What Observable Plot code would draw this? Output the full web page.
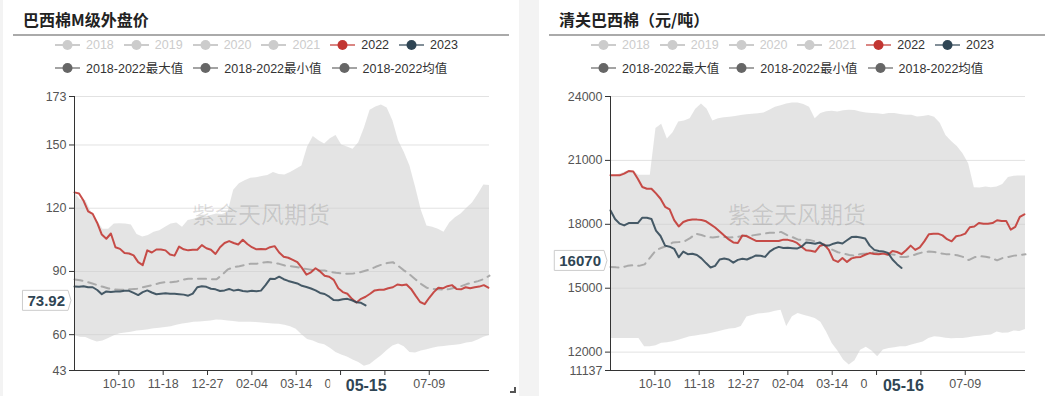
<!DOCTYPE html>
<html><head><meta charset="utf-8">
<script src="https://cdn.jsdelivr.net/npm/d3@7"></script>
<script src="https://cdn.jsdelivr.net/npm/@observablehq/plot@0.6"></script>
<style>
html,body{margin:0;padding:0;background:#f3f3f3;width:1045px;height:396px;overflow:hidden;font-family:"Liberation Sans","Noto Sans CJK SC",sans-serif;}
.card{position:absolute;top:0;width:516px;height:396px;background:#fff;overflow:hidden}
.title{position:absolute;left:20px;top:8px;font:700 16px/22px "Noto Sans CJK SC",sans-serif;color:#222;white-space:nowrap}
.rule{position:absolute;left:10px;width:496px;top:34px;height:1.5px;background:#aaa}
.legend{position:absolute;left:52px;top:34px;font-size:12.5px;}
.row{display:flex;align-items:center;height:22.5px;white-space:nowrap}
.item{display:flex;align-items:center;margin-right:10px}
.item svg{margin-right:6px;display:block}
.chart{position:absolute;left:0;top:80px}
.wm{position:absolute;left:0;width:516px;top:199px;text-align:center;font:23px/28px "Noto Sans CJK SC",sans-serif;color:rgba(0,0,0,0.13);pointer-events:none}
.corner{position:absolute;left:507px;top:387px;width:4px;height:4px;border-right:2px solid #555;border-bottom:2px solid #555}
</style></head>
<body>
<div class="card" id="cardL" style="left:3px"></div>
<div class="card" id="cardR" style="left:539px"></div>
<script>
// ---------- shared categories ----------
const START = new Date(Date.UTC(2019, 8, 1));   // 09-01 (cotton year, leap Feb)
const END = new Date(Date.UTC(2020, 7, 31));    // 08-31
const X_TICKS = ["2019-10-10","2019-11-18","2019-12-27","2020-02-04","2020-03-14","2020-04-22","2020-05-31","2020-07-09"];
const BAND_STEP = 5;   // days between band / mean samples
const LINE_STEP = 4;   // days between 2022 / 2023 samples
const LEGEND_YEARS = ["2018","2019","2020","2021","2022","2023"];
const LEGEND_STATS = ["2018-2022最大值","2018-2022最小值","2018-2022均值"];

// ---------- left: 巴西棉M级外盘价 ----------
const leftTitle = "巴西棉M级外盘价";
const leftYTicks = [43, 60, 90, 120, 150, 173];
const leftMax = [127.6,124,123.7,118,114,110,110,112.5,112.6,112.5,
  112,107.5,106.3,107,108.6,109.3,111,112.5,113,111,
  114.2,114.8,115.8,116,116.5,117.3,117,118,128.5,131.6,
  133,134.2,134.5,135,135.5,137,136,135.7,137,138.5,
  140,149,154,152,150.5,153,154.5,150,149,148,
  151,158,166.5,168,169,167.5,161.5,152,146.5,140,
  130,119,111.5,111,110,108.6,113,115.5,117.3,120,
  122.5,126.5,131,130.8];
const leftMin = [59.6,58.8,58.6,57.5,56.5,57,58.2,59.5,60.4,60.8,
  61.2,61.8,62,62.3,62.8,63,63.4,63.8,64.5,65.1,
  65.4,65.9,66,66.3,66.5,67,66.8,66.5,66.2,65.9,
  65.9,65.9,65.8,65.5,65.3,65.1,65,64.5,63.8,62.6,
  60,57.7,57,55.8,55.2,53.5,51.5,50.3,49.4,48,
  46.8,45,45.8,48,50,52.5,54.6,55.6,54.3,51.5,
  51.3,52.2,52.8,53.6,54.1,54.4,54.8,55,55.3,56,
  56.4,57.5,58.8,59.6];
const leftMean = [86.2,85.8,85.2,84.4,83.5,82.7,81.9,81.5,81.3,81.4,
  81.6,81.8,82.5,83.1,83.7,84.5,84.9,84.9,85.2,86,
  86.5,86.5,86.5,86.5,86.3,86.3,88.5,91,92,92.5,
  93.1,93.7,93.6,94.2,94.5,94.1,93.6,92.8,92.5,92.1,
  91.5,91.1,90.6,90.4,90.4,89.8,89.4,89.1,88.9,89,
  89.4,90.2,91,92.2,93.2,94,94.4,92.5,90.4,88.5,
  86.2,84,82.2,81.7,81.5,81.3,81.7,82.4,83,84,
  84.7,85.4,86.4,88];
const left2022 = [127.5,127,123.5,118.5,117.3,113,107.5,105.5,108,101.5,
  100.7,98.7,98.5,97.6,94.4,93,100,99,100.4,100.4,
  100,98,97.5,101.8,100.5,100,100.3,100.3,102.5,101,
  100.3,98.3,101.5,103.5,104.4,103.5,102.8,105,103,101.5,
  100.5,100.7,100.5,101.5,102,99,97,96.5,95.5,94.4,
  91.7,88.5,89.6,91.5,90,88,87.5,86,82,80.2,
  79.4,77,75.3,77,78,79.4,81,81.3,81.3,82,
  82.5,83.8,83.5,83.8,81.7,78.5,75.5,74.5,77.5,80.2,
  82.3,82,83,83.5,81.7,81.5,82.5,82,82.5,82.8,
  83.5,82.3];
const left2023 = [82.9,82.7,83,82.5,82.5,81.2,79.2,80.5,80.2,80.5,
  80.5,80.8,80.8,79.8,78.8,80.2,81,80,79.2,79.4,
  79.6,79.4,79.4,79.2,79,78.5,79.5,82.5,83,82.7,
  81.8,81.5,80.7,81,81.7,80.9,81.3,80.7,80.5,80.8,
  80.6,80.9,83.5,86.5,86.4,87.5,86.3,85.5,84.9,84.3,
  83.2,82.6,81.9,81,79.8,79.3,78,76.4,76.3,76.8,
  77,76.3,75.4,75.1,73.92];
const leftPointerDate = "2020-05-15";
const leftPointerValue = 73.92;

// ---------- right: 清关巴西棉（元/吨） ----------
const rightTitle = "清关巴西棉（元/吨）";
const rightYTicks = [11137, 12000, 15000, 18000, 21000, 24000];
const rightMax = [20300,20300,20400,20500,20500,20300,20300,20300,22500,22700,
  22000,22300,22800,22850,22950,23400,23650,23400,22850,22950,
  23000,23030,23060,23110,23140,23170,23190,23220,23350,23500,
  23560,23650,23700,23700,23630,23500,22950,23200,23280,23310,
  23270,23330,23360,23340,23270,23230,23200,23190,23150,23200,
  23200,23150,23120,23120,23040,23060,23110,23030,22750,22170,
  21890,21650,21310,20840,19720,19700,19750,19720,19750,19870,
  20200,20260,20265,20265];
const rightMin = [12640,12640,12640,12640,12640,12640,12250,12250,12300,12420,
  12440,12485,12560,12640,12720,12760,12800,12840,12900,12960,
  13030,13080,13110,13200,13650,13720,13790,13810,13850,13920,
  13970,13200,13660,13810,13730,13660,13580,13400,12950,12400,
  12050,11625,11400,11600,12090,12230,12050,11780,12100,12170,
  12200,12250,12250,12330,12410,12480,12640,12720,12700,12650,
  12630,12640,12640,12680,12720,12750,12780,12800,12950,12880,
  12900,12990,12970,13060];
const rightMean = [16000,15980,15970,16050,16080,16050,16120,16450,16780,16900,
  17000,17150,17170,17200,17350,17560,17500,17400,17380,17420,
  17400,17380,17400,17440,17480,17480,17520,17560,17600,17600,
  17640,17500,17400,17280,17280,17260,17200,17110,16970,16810,
  16690,16625,16560,16520,16610,16625,16680,16640,16620,16600,
  16570,16470,16470,16520,16620,16690,16720,16700,16640,16600,
  16590,16550,16470,16320,16450,16500,16480,16420,16310,16420,
  16470,16530,16560,16590];
const right2022 = [20300,20300,20300,20380,20500,20480,20140,19750,19670,19670,
  19450,19200,18820,18700,18200,17900,18110,18190,18230,18220,
  18200,18140,18000,17850,17660,17470,17290,17150,17125,17480,
  17440,17330,17220,17220,17220,17220,17220,17220,17280,17270,
  17220,17125,16950,16780,16760,16710,16980,17050,16800,16330,
  16235,16420,16235,16400,16450,16470,16570,16650,16610,16590,
  16625,16570,16750,16700,16600,16780,17000,16800,16920,17200,
  17530,17560,17560,17480,17300,17200,17440,17480,17560,17860,
  17900,18060,18030,18030,18060,18190,18160,18160,17750,17880,
  18350,18470];
const right2023 = [18650,18250,18030,17950,18060,18060,18060,18310,18310,18250,
  17700,17450,17000,16950,16850,16450,16720,16600,16620,16560,
  16400,16180,15970,16050,16350,16390,16350,16200,16330,16380,
  16350,16440,16540,16520,16470,16720,16860,16940,16890,16900,
  16880,16860,16950,17150,17120,17090,17150,17020,17000,17090,
  17150,17100,17250,17400,17420,17380,17330,17000,16800,16750,
  16720,16660,16350,16130,15950];
const rightPointerDate = "2020-05-16";
const rightPointerValue = 16070;

// ---------- colours ----------
const C2022 = "#c23531", C2023 = "#2f4554", CSTAT = "#666", COFF = "#ccc";
const fmtDay = d3.utcFormat("%m-%d");

function series(values, step) {
  return values.map((v, i) => ({date: d3.utcDay.offset(START, i * step), value: v}));
}

function legendItem(label, color, active) {
  const it = document.createElement("div");
  it.className = "item";
  it.innerHTML = `<svg width="25" height="14"><line x1="0" x2="25" y1="7" y2="7" stroke="${color}" stroke-width="2" stroke-opacity="${active ? 0.6 : 1}"/><circle cx="12.5" cy="7" r="5" fill="${color}"/></svg><span style="color:${active ? "#333" : COFF}">${label}</span>`;
  return it;
}

function buildCard(card, cfg) {
  const t = document.createElement("div"); t.className = "title"; t.textContent = cfg.title; card.appendChild(t);
  const r = document.createElement("div"); r.className = "rule"; card.appendChild(r);
  const lg = document.createElement("div"); lg.className = "legend";
  const r1 = document.createElement("div"); r1.className = "row";
  LEGEND_YEARS.forEach((y, i) => {
    const col = y === "2022" ? C2022 : y === "2023" ? C2023 : COFF;
    r1.appendChild(legendItem(y, col, i >= 4));
  });
  const r2 = document.createElement("div"); r2.className = "row";
  LEGEND_STATS.forEach(s => r2.appendChild(legendItem(s, CSTAT, true)));
  lg.appendChild(r1); lg.appendChild(r2); card.appendChild(lg);

  const band = cfg.max.map((v, i) => ({date: d3.utcDay.offset(START, i * BAND_STEP), max: v, min: cfg.min[i]}));
  const yMin = cfg.yTicks[0], yMax = cfg.yTicks[cfg.yTicks.length - 1];
  const pd = new Date(cfg.pointerDate);
  // a tick label that sits wholly under the pointer label is hidden by it
  const tickFmt = d => { const dd = (d - pd) / 864e5; return (dd > 0 && dd <= 17) ? "" : fmtDay(d); };
  const plot = Plot.plot({
    width: 516, height: 316,
    marginLeft: 71, marginRight: 30, marginTop: 16, marginBottom: 26,
    style: {fontFamily: '"Liberation Sans","Noto Sans CJK SC",sans-serif', fontSize: "12.5px", background: "transparent", overflow: "visible"},
    x: {type: "utc", domain: [START, END]},
    y: {domain: [yMin, yMax]},
    marks: [
      Plot.ruleY(cfg.yTicks, {stroke: "#e2e2e2"}),
      Plot.areaY(band, {x: "date", y1: "min", y2: "max", fill: "#cdcdcd", fillOpacity: 0.55}),
      Plot.lineY(series(cfg.mean, BAND_STEP), {x: "date", y: "value", stroke: "#aaa", strokeWidth: 2, strokeDasharray: "8,6"}),
      Plot.lineY(series(cfg.s2022, LINE_STEP), {x: "date", y: "value", stroke: C2022, strokeWidth: 2, strokeOpacity: 0.88}),
      Plot.lineY(series(cfg.s2023, LINE_STEP), {x: "date", y: "value", stroke: C2023, strokeWidth: 2, strokeOpacity: 0.88}),
      Plot.ruleX([START], {stroke: "#333"}),
      Plot.ruleY([yMin], {stroke: "#333"}),
      Plot.axisY(cfg.yTicks, {tickSize: 5, tickPadding: 3, stroke: "#333", fill: "#555", label: null, tickFormat: d => String(d)}),
      Plot.axisX(X_TICKS.map(d => new Date(d)), {tickSize: 5, tickPadding: 4, stroke: "#333", fill: "#555", label: null, tickFormat: tickFmt})
    ]
  });
  const holder = document.createElement("div"); holder.className = "chart";
  holder.appendChild(plot); card.appendChild(holder);

  // axis-pointer labels, placed through the plot's own scales
  const sx = plot.scale("x"), sy = plot.scale("y");
  const svg = d3.select(plot);
  const g = svg.append("g");
  const px = sx.apply(pd), base = sy.apply(yMin);
  g.append("rect").attr("x", px - 36).attr("y", base + 6).attr("width", 72).attr("height", 20).attr("fill", "#fff");
  g.append("text").attr("x", px).attr("y", base + 20.5).attr("text-anchor", "middle")
    .attr("font-weight", 700).attr("font-size", 16).attr("fill", C2023).text(fmtDay(pd));

  const ax = sx.apply(START), cy = sy.apply(cfg.pointerValue) - 4.5;
  const lab = g.append("path");
  const txt = g.append("text").attr("x", ax - 9).attr("y", cy + 5.3).attr("text-anchor", "end")
    .attr("font-weight", 700).attr("font-size", 15).attr("fill", C2023).text(String(cfg.pointerValue));
  const w = txt.node().getComputedTextLength();
  const right = ax - 6, left = ax - 9 - w - 5, top = cy - 10, bot = cy + 10;
  lab.attr("d", `M${left},${top}H${right}L${ax - 3},${cy}L${right},${bot}H${left}Z`)
    .attr("fill", "#fff").attr("stroke", "#ccc").attr("stroke-width", 1);

  const wm = document.createElement("div"); wm.className = "wm"; wm.textContent = "紫金天风期货"; card.appendChild(wm);
  if (cfg.corner) { const c = document.createElement("div"); c.className = "corner"; card.appendChild(c); }
}

buildCard(document.getElementById("cardL"), {
  title: leftTitle, yTicks: leftYTicks, max: leftMax, min: leftMin, mean: leftMean,
  s2022: left2022, s2023: left2023, pointerDate: leftPointerDate, pointerValue: leftPointerValue, corner: true
});
buildCard(document.getElementById("cardR"), {
  title: rightTitle, yTicks: rightYTicks, max: rightMax, min: rightMin, mean: rightMean,
  s2022: right2022, s2023: right2023, pointerDate: rightPointerDate, pointerValue: rightPointerValue, corner: false
});
</script>
</body></html>
